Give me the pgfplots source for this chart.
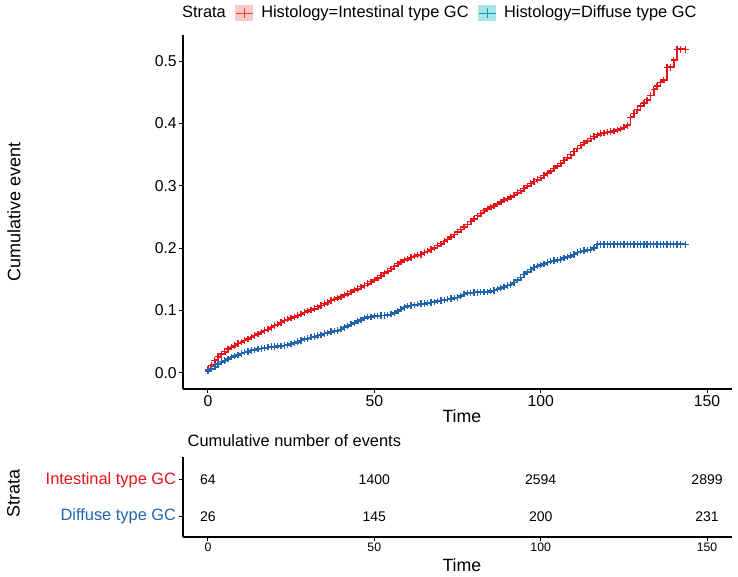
\documentclass[border=0pt]{standalone}
\usepackage{pgfplots}
\pgfplotsset{compat=1.18}
\usepackage{fontspec}
\setmainfont{Liberation Sans}
\definecolor{redC}{RGB}{232,18,24}
\definecolor{blueC}{RGB}{32,100,176}
\definecolor{pinkK}{RGB}{249,201,197}
\definecolor{cyanK}{RGB}{168,228,230}
\definecolor{redK}{RGB}{240,60,60}
\definecolor{tealK}{RGB}{0,165,170}
\newcommand{\fs}[1]{\fontsize{#1}{#1}\selectfont}
\begin{document}
\begin{tikzpicture}
\useasboundingbox (0,0) rectangle (553.5pt,-432pt);
\begin{axis}[
  at={(137.25pt,-291.75pt)}, anchor=south west,
  width=411.75pt, height=265.5pt, scale only axis,
  xmin=-7.5, xmax=157.5, ymin=-0.026, ymax=0.542,
  axis x line=bottom, axis y line=left,
  axis line style={-, line width=0.8pt, black},
  xtick={0,50,100,150}, ytick={0,0.1,0.2,0.3,0.4,0.5},
  tick align=outside, major tick length=3pt,
  tick style={line width=0.8pt, black},
  /pgf/number format/assume math mode=true,
  yticklabel style={/pgf/number format/.cd, fixed, fixed zerofill, precision=1},
  ticklabel style={font=\fs{11.8}, inner sep=1.5pt},
  xlabel={Time}, ylabel={Cumulative event},
  every axis x label/.style={at={(axis description cs:0.508,-0.0763)}, anchor=center, font=\fs{13.3}},
  every axis y label/.style={at={(axis description cs:-0.3078,0.5)}, rotate=90, anchor=center, font=\fs{13.5}},
  clip=false,
  legend style={at={(axis description cs:0.462,1.062)}, anchor=center, legend columns=-1, draw=none, fill=none, font=\fs{12.3},
    /tikz/every odd column/.append style={column sep=4pt},
    /tikz/every even column/.append style={column sep=5pt}},
]
\addlegendimage{empty legend}\addlegendentry{Strata}
\addlegendimage{legend image code/.code={\fill[pinkK] (0pt,-5.5pt) rectangle (12.75pt,5.5pt); \draw[redK, line width=0.8pt] (0pt,0pt)--(12.75pt,0pt) (6.4pt,-3.5pt)--(6.4pt,3.5pt);}}
\addlegendentry{Histology=Intestinal type GC}
\addlegendimage{legend image code/.code={\fill[cyanK] (0pt,-5.5pt) rectangle (12.75pt,5.5pt); \draw[tealK, line width=0.8pt] (0pt,0pt)--(12.75pt,0pt) (6.4pt,-3.5pt)--(6.4pt,3.5pt);}}
\addlegendentry{Histology=Diffuse type GC}
\addplot[const plot, redC, line width=1.4pt, mark=+, mark size=2.4pt, mark options={line width=1pt}, forget plot] table {
t v
0 0.005
1 0.012
2 0.020
3 0.026
4 0.030
5 0.034
6 0.038
7 0.041
8 0.044
9 0.047
10 0.049
11 0.052
12 0.054
13 0.057
14 0.060
15 0.062
16 0.065
17 0.068
18 0.070
19 0.073
20 0.076
21 0.078
22 0.081
23 0.084
24 0.086
25 0.088
26 0.090
27 0.092
28 0.094
29 0.097
30 0.099
31 0.101
32 0.103
33 0.106
34 0.108
35 0.111
36 0.113
37 0.116
38 0.118
39 0.120
40 0.122
41 0.125
42 0.127
43 0.130
44 0.133
45 0.135
46 0.138
47 0.140
48 0.143
49 0.146
50 0.149
51 0.152
52 0.156
53 0.160
54 0.163
55 0.167
56 0.171
57 0.175
58 0.178
59 0.181
60 0.183
61 0.185
62 0.187
63 0.189
64 0.190
65 0.193
66 0.195
67 0.198
68 0.200
69 0.204
70 0.207
71 0.211
72 0.214
73 0.218
74 0.222
75 0.226
76 0.230
77 0.234
78 0.238
79 0.243
80 0.247
81 0.252
82 0.256
83 0.260
84 0.263
85 0.266
86 0.268
87 0.271
88 0.274
89 0.277
90 0.279
91 0.282
92 0.285
93 0.289
94 0.292
95 0.296
96 0.300
97 0.304
98 0.307
99 0.310
100 0.313
101 0.317
102 0.320
103 0.324
104 0.328
105 0.332
106 0.336
107 0.341
108 0.345
109 0.350
110 0.355
111 0.360
112 0.365
113 0.369
114 0.372
115 0.376
116 0.379
117 0.382
118 0.384
119 0.385
120 0.386
121 0.387
122 0.388
123 0.390
124 0.391
125 0.394
126 0.397
127 0.410
128 0.416
129 0.422
130 0.428
131 0.433
132 0.438
133 0.445
134 0.455
135 0.460
136 0.466
137 0.470
138 0.490
139 0.490
140 0.502
141 0.519
142 0.519
143.5 0.519
};
\addplot[const plot, blueC, line width=1.4pt, mark=+, mark size=2.4pt, mark options={line width=1pt}, forget plot] table {
t v
0 0.003
1 0.006
2 0.010
3 0.014
4 0.018
5 0.020
6 0.022
7 0.025
8 0.027
9 0.029
10 0.031
11 0.033
12 0.034
13 0.036
14 0.037
15 0.038
16 0.039
17 0.040
18 0.041
19 0.042
20 0.042
21 0.043
22 0.043
23 0.044
24 0.045
25 0.046
26 0.048
27 0.050
28 0.052
29 0.054
30 0.055
31 0.057
32 0.058
33 0.060
34 0.061
35 0.063
36 0.064
37 0.066
38 0.067
39 0.068
40 0.070
41 0.073
42 0.075
43 0.078
44 0.080
45 0.083
46 0.085
47 0.088
48 0.090
49 0.090
50 0.091
51 0.091
52 0.092
53 0.092
54 0.093
55 0.094
56 0.096
57 0.099
58 0.102
59 0.105
60 0.107
61 0.108
62 0.109
63 0.110
64 0.111
65 0.111
66 0.112
67 0.113
68 0.114
69 0.115
70 0.116
71 0.117
72 0.118
73 0.119
74 0.120
75 0.121
76 0.123
77 0.126
78 0.128
79 0.128
80 0.129
81 0.129
82 0.130
83 0.130
84 0.130
85 0.131
86 0.132
87 0.134
88 0.136
89 0.138
90 0.140
91 0.142
92 0.145
93 0.149
94 0.153
95 0.158
96 0.162
97 0.166
98 0.169
99 0.171
100 0.173
101 0.175
102 0.177
103 0.179
104 0.180
105 0.181
106 0.182
107 0.184
108 0.186
109 0.188
110 0.190
111 0.193
112 0.195
113 0.196
114 0.197
115 0.198
116 0.200
117 0.206
118 0.206
119 0.206
120 0.206
121 0.206
122 0.206
123 0.206
124 0.206
125 0.206
126 0.206
127 0.206
128 0.206
129 0.206
130 0.206
131 0.206
132 0.206
133 0.206
134 0.206
135 0.206
136 0.206
137 0.206
138 0.206
139 0.206
140 0.206
141 0.206
142 0.206
143.5 0.206
};
\end{axis}
\begin{axis}[
  at={(137.25pt,-402.75pt)}, anchor=south west,
  width=411.75pt, height=60pt, scale only axis,
  xmin=-7.5, xmax=157.5, ymin=0.45, ymax=2.62,
  axis x line=bottom, axis y line=left,
  axis line style={-, line width=0.8pt, black},
  xtick={0,50,100,150}, ytick={1,2},
  yticklabels={\textcolor{blueC}{Diffuse type GC}, \textcolor{redC}{Intestinal type GC}},
  tick align=outside, major tick length=3pt,
  tick style={line width=0.8pt, black},
  /pgf/number format/assume math mode=true,
  xticklabel style={font=\fs{9.2}, inner sep=1.5pt},
  yticklabel style={font=\fs{12.3}, inner sep=2pt},
  xlabel={Time}, ylabel={Strata},
  every axis x label/.style={at={(axis description cs:0.508,-0.35)}, anchor=center, font=\fs{13.3}},
  every axis y label/.style={at={(axis description cs:-0.3087,0.55)}, rotate=90, anchor=center, font=\fs{13.5}},
  title={Cumulative number of events},
  every axis title/.style={at={(axis description cs:0,1.1375)}, anchor=base west, font=\fs{12.3}},
  clip=false,
]
\addplot[draw=none, mark=none, nodes near coords, point meta=explicit symbolic,
  every node near coord/.append style={anchor=center, font=\fs{10.5}, black}] table[meta=lab] {
t s lab
0 2 64
50 2 1400
100 2 2594
150 2 2899
0 1 26
50 1 145
100 1 200
150 1 231
};
\end{axis}
\end{tikzpicture}
\end{document}
